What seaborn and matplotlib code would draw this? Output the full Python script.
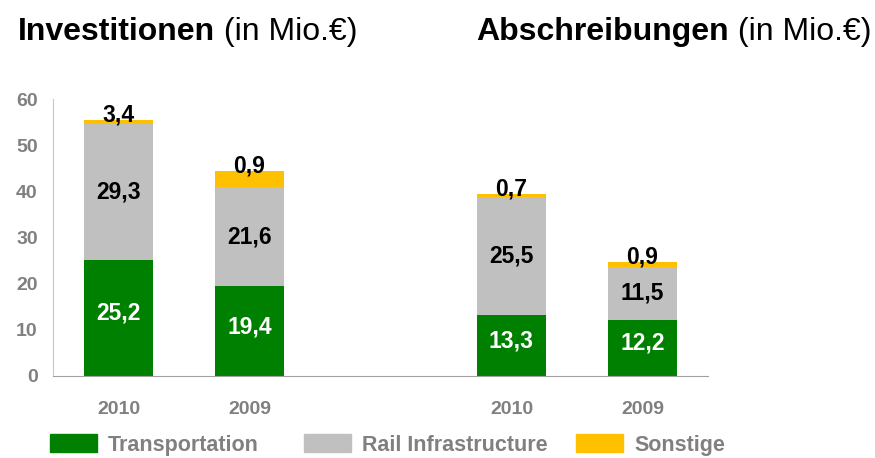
import matplotlib
matplotlib.use("Agg")
import pandas as pd
import seaborn as sns
import matplotlib.pyplot as plt
from matplotlib.patches import Patch

# slots on the x axis, the empty one is the gap between both charts
slots = ["Inv 2010", "Inv 2009", "", "Abs 2010", "Abs 2009"]
bar_slots = ["Inv 2010", "Inv 2009", "Abs 2010", "Abs 2009"]
year_labels = ["2010", "2009", "", "2010", "2009"]

transportation = [25.2, 19.4, 13.3, 12.2]
rail = [29.3, 21.6, 25.5, 11.5]
sonstige = [0.9, 3.4, 0.7, 0.9]          # heights as drawn in the picture
sonstige_labels = ["3,4", "0,9", "0,7", "0,9"]  # labels as written

series_names = ["Transportation", "Rail Infrastructure", "Sonstige"]

GREEN = "#008000"
GREY = "#C0C0C0"
YELLOW = "#FFC000"
TXT = "#808080"

sns.set_style("white")
plt.rcParams["font.family"] = ["Liberation Sans", "DejaVu Sans"]

df = pd.DataFrame({"slot": bar_slots, "t": transportation, "r": rail, "s": sonstige})
df["tr"] = df["t"] + df["r"]
df["top"] = df["tr"] + df["s"]

fig = plt.figure(figsize=(8.75, 4.58), dpi=100)
ax = fig.add_axes([53 / 875, 1 - 376 / 458, (708 - 53) / 875, (376 - 99) / 458])

# stacked bars drawn back to front
for col, c in [("top", YELLOW), ("tr", GREY), ("t", GREEN)]:
    sns.barplot(data=df, x="slot", y=col, order=slots, color=c, saturation=1,
                width=0.53, linewidth=0, errorbar=None, ax=ax)

# value labels
for i, row in df.iterrows():
    x = slots.index(row["slot"])
    ax.text(x, row["t"] / 2 + 1, f"{row['t']:.1f}".replace(".", ","), ha="center", va="center",
            color="white", fontsize=16.5, fontweight="bold")
    ax.text(x, row["t"] + row["r"] / 2, f"{row['r']:.1f}".replace(".", ","), ha="center",
            va="center", color="black", fontsize=16.5, fontweight="bold")
    ax.text(x, row["top"] - 0.3, sonstige_labels[i], ha="center", va="baseline",
            color="black", fontsize=16.5, fontweight="bold")

ax.set_xlim(-0.5, 4.5)
ax.set_ylim(0, 60)
ax.set_xlabel("")
ax.set_ylabel("")
ax.set_xticks([-0.5, 0.5, 1.5, 2.5, 3.5, 4.5])
ax.set_xticklabels([])
ax.set_xticks(range(5), minor=True)
ax.set_xticklabels(year_labels, minor=True)
ax.tick_params(axis="x", which="major", length=5, width=1, color="#A0A0A0", direction="out")
ax.tick_params(axis="x", which="minor", length=0, pad=18, labelsize=14, labelcolor=TXT)
ax.set_yticks(range(0, 61, 10))
ax.tick_params(axis="y", length=5, width=1, color="#A0A0A0", direction="out",
               pad=6, labelsize=14, labelcolor=TXT)
for lab in ax.get_xticklabels(minor=True) + ax.get_yticklabels():
    lab.set_fontweight("bold")

sns.despine(ax=ax)
ax.spines["left"].set_color("#C8C8C8")
ax.spines["bottom"].set_color("#A0A0A0")

# legend: one entry per fixed slot, like the original
for name, c, lx in zip(series_names, [GREEN, GREY, YELLOW], [50, 304, 576]):
    leg = fig.legend([Patch(color=c)], [name], loc="center left",
                     bbox_to_anchor=(lx / 875, 1 - 445 / 458), frameon=False,
                     handlelength=2.2, handleheight=0.85, handletextpad=0.5,
                     borderpad=0, borderaxespad=0, prop={"weight": "bold", "size": 15.5})
    for t in leg.get_texts():
        t.set_color(TXT)

# titles: bold part followed by normal part
fig.canvas.draw()
for x0, bold in [(18, "Investitionen"), (476, "Abschreibungen")]:
    t1 = fig.text(x0 / 875, 1 - 32 / 458, bold, fontsize=23, fontweight="bold",
                  va="center", color="black")
    bb = t1.get_window_extent(renderer=fig.canvas.get_renderer())
    fig.text(bb.x1 / 875, 1 - 32 / 458, " (in Mio.€)", fontsize=23, va="center", color="black")

fig.savefig("out.png", dpi=100)
